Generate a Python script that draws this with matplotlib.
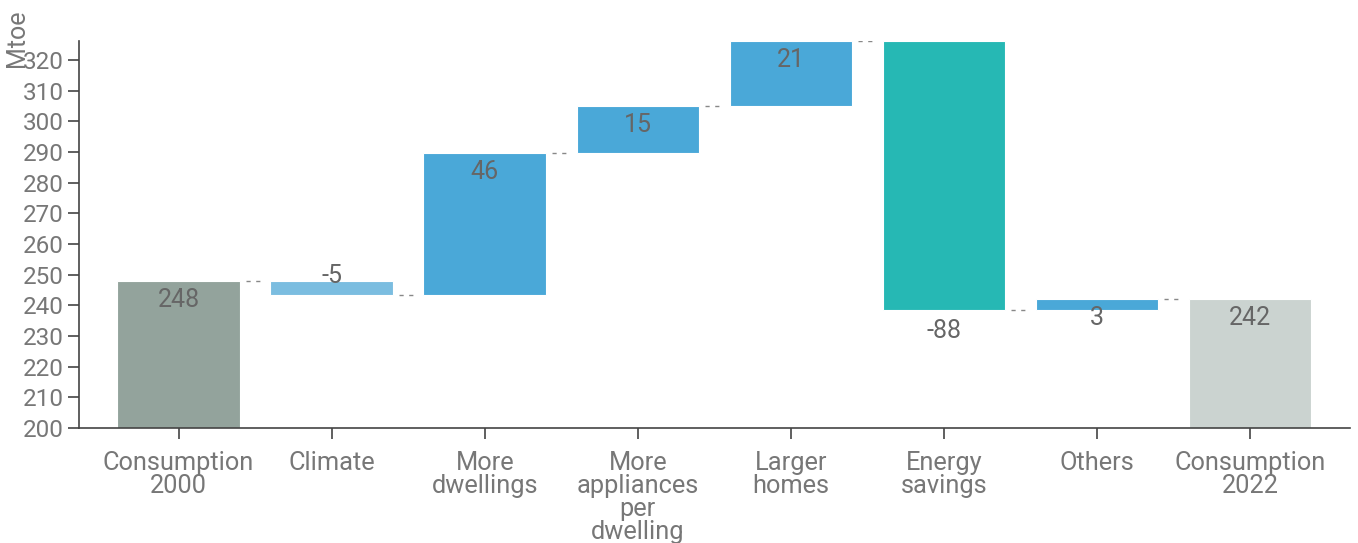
import matplotlib
matplotlib.use("Agg")
import matplotlib.pyplot as plt
import numpy as np

plt.rcParams['font.family'] = ['Roboto', 'DejaVu Sans']

categories = ["Consumption\n2000", "Climate", "More\ndwellings", "More\nappliances\nper\ndwelling",
              "Larger\nhomes", "Energy\nsavings", "Others", "Consumption\n2022"]
start_total = 248.0
deltas = [-4.6, 46.3, 15.3, 21.2, -87.6, 3.4]
end_total = 242.0
y_ticks = [200, 210, 220, 230, 240, 250, 260, 270, 280, 290, 300, 310, 320]

colors = ["#93a39c", "#7bbde0", "#4aa8d8", "#4aa8d8", "#4aa8d8", "#26b8b4", "#4aa8d8", "#cbd3d0"]

# build bottoms/tops
bottoms, tops, labels = [], [], []
bottoms.append(200); tops.append(start_total); labels.append(f"{start_total:.0f}")
run = start_total
for d in deltas:
    new = run + d
    bottoms.append(min(run, new)); tops.append(max(run, new)); labels.append(f"{round(d):d}")
    run = new
bottoms.append(200); tops.append(end_total); labels.append(f"{end_total:.0f}")

W, H = 1358, 543
fig = plt.figure(figsize=(W/100, H/100), dpi=100)
ax = fig.add_axes([79/W, 1-428/H, (1350-79)/W, (428-41)/H])

x = np.arange(len(categories))
bw = 0.8
for i in range(len(categories)):
    ax.bar(x[i], tops[i]-bottoms[i], bottom=bottoms[i], width=bw, color=colors[i],
           edgecolor='white', linewidth=0.8, zorder=2)

# connectors
levels = [start_total]
run = start_total
for d in deltas:
    run += d
    levels.append(run)
for i in range(len(categories)-1):
    lv = levels[i]
    ax.plot([x[i]+bw/2+0.04, x[i+1]-bw/2-0.04], [lv, lv], color='#888888', lw=1,
            linestyle=(0, (3, 4)), zorder=1)

# value labels
lab_col = '#666666'
for i in range(len(categories)):
    d = None if i in (0, len(categories)-1) else deltas[i-1]
    if d is None or d > 0:
        y, off = tops[i], -19
    elif i == 1:
        y, off = bottoms[i], 19
    else:
        y, off = bottoms[i], -21
    ax.annotate(labels[i], (x[i], y), xytext=(0, off), textcoords='offset pixels',
                ha='center', va='center', fontsize=18, color=lab_col, zorder=3)

ax.set_xlim(-0.650, 7.652)
ax.set_ylim(200, 326.2)
ax.set_yticks(y_ticks)
ax.set_xticks(x)
ax.set_xticklabels(categories, fontsize=18.3, color='#777777', linespacing=0.95, va='top')
ax.tick_params(axis='y', labelsize=17.5, labelcolor='#777777', length=8, width=1.2, color='#444444', pad=3)
ax.tick_params(axis='x', length=8, width=1.2, color='#444444', pad=8.5)
for s in ['top', 'right']:
    ax.spines[s].set_visible(False)
for s in ['left', 'bottom']:
    ax.spines[s].set_color('#444444')
    ax.spines[s].set_linewidth(1.2)

fig.text(17/W, 1-38/H, "Mtoe", rotation=90, ha='center', va='center', fontsize=18, color='#777777')

fig.savefig("out.png", dpi=100)
